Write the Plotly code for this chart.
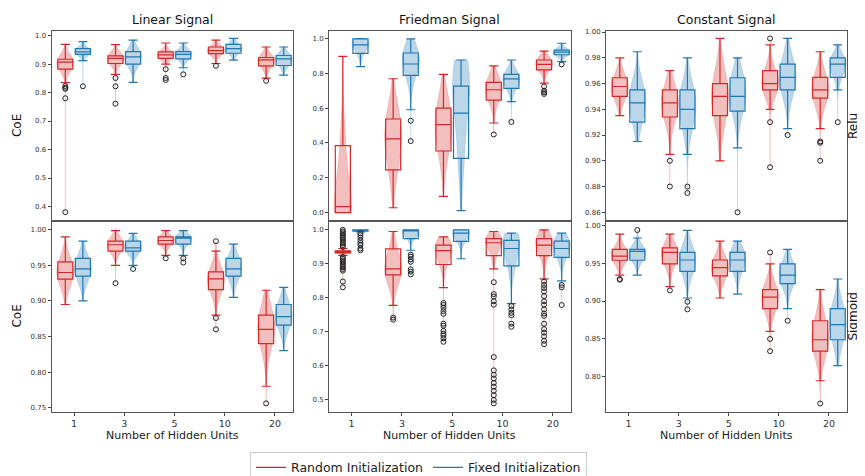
import plotly.graph_objects as go

# ---------------- data ----------------
K_LABELS = ["1", "3", "5", "10", "20"]
K_POS = [0, 1, 2, 3, 4]
SIGNALS = ["Linear Signal", "Friedman Signal", "Constant Signal"]
ACTIVATIONS = ["Relu", "Sigmoid"]
INITS = ["Random Initialization", "Fixed Initialization"]

linear_relu_random = dict(
    lo=[0.835, 0.864, 0.900, 0.902, 0.851],
    q1=[0.882, 0.902, 0.920, 0.937, 0.894],
    med=[0.907, 0.920, 0.932, 0.947, 0.915],
    q3=[0.917, 0.929, 0.943, 0.960, 0.923],
    hi=[0.969, 0.968, 0.974, 0.984, 0.960],
    peak=[0.905, 0.920, 0.932, 0.947, 0.912],
    out=[[0.823, 0.817, 0.813, 0.780, 0.380], [0.851, 0.822, 0.761], [0.882, 0.851, 0.844], [0.894], [0.841]],
)
linear_relu_fixed = dict(
    lo=[0.912, 0.836, 0.887, 0.914, 0.861],
    q1=[0.934, 0.900, 0.918, 0.938, 0.895],
    med=[0.943, 0.925, 0.934, 0.954, 0.918],
    q3=[0.954, 0.944, 0.944, 0.969, 0.930],
    hi=[0.979, 0.984, 0.974, 0.990, 0.960],
    peak=[0.945, 0.925, 0.935, 0.955, 0.918],
    out=[[0.822], [], [0.864], [], []],
)
friedman_relu_random = dict(
    lo=[0.000, 0.028, 0.093, 0.515, 0.744],
    q1=[0.000, 0.246, 0.354, 0.646, 0.820],
    med=[0.034, 0.424, 0.506, 0.706, 0.852],
    q3=[0.385, 0.538, 0.600, 0.748, 0.877],
    hi=[0.898, 0.769, 0.794, 0.843, 0.928],
    peak=[0.020, 0.450, 0.500, 0.720, 0.860],
    out=[[], [], [], [0.449], [0.725, 0.700, 0.691, 0.682]],
)
friedman_relu_fixed = dict(
    lo=[0.839, 0.591, 0.011, 0.638, 0.867],
    q1=[0.915, 0.788, 0.312, 0.714, 0.907],
    med=[0.964, 0.854, 0.572, 0.768, 0.922],
    q3=[0.998, 0.917, 0.727, 0.794, 0.934],
    hi=[1.000, 0.998, 0.877, 0.877, 0.973],
    peak=[0.970, 0.900, 0.800, 0.770, 0.920],
    out=[[], [0.528, 0.411], [], [0.521], [0.852]],
)
constant_relu_random = dict(
    lo=[0.935, 0.905, 0.900, 0.940, 0.925],
    q1=[0.950, 0.934, 0.935, 0.955, 0.9487],
    med=[0.9577, 0.945, 0.950, 0.960, 0.955],
    q3=[0.9645, 0.955, 0.960, 0.970, 0.9648],
    hi=[0.980, 0.970, 0.995, 0.990, 0.9847],
    peak=[0.957, 0.945, 0.950, 0.960, 0.955],
    out=[[], [0.900, 0.880], [], [0.995, 0.930, 0.895], [0.915, 0.914, 0.900]],
)
constant_relu_fixed = dict(
    lo=[0.915, 0.905, 0.910, 0.925, 0.955],
    q1=[0.930, 0.925, 0.9385, 0.955, 0.9648],
    med=[0.945, 0.940, 0.950, 0.9648, 0.975],
    q3=[0.955, 0.955, 0.9645, 0.975, 0.980],
    hi=[0.9847, 0.980, 0.980, 0.995, 0.990],
    peak=[0.948, 0.945, 0.955, 0.965, 0.975],
    out=[[], [0.880, 0.875], [0.860], [0.920], [0.930]],
)
linear_sigmoid_random = dict(
    lo=[0.895, 0.950, 0.964, 0.880, 0.780],
    q1=[0.9306, 0.970, 0.980, 0.916, 0.840],
    med=[0.940, 0.979, 0.985, 0.931, 0.860],
    q3=[0.955, 0.984, 0.990, 0.941, 0.880],
    hi=[0.990, 0.999, 0.999, 0.970, 0.915],
    peak=[0.940, 0.980, 0.985, 0.930, 0.865],
    out=[[], [0.925], [0.960], [0.984, 0.876, 0.860], [0.756]],
)
linear_sigmoid_fixed = dict(
    lo=[0.900, 0.950, 0.964, 0.905, 0.830],
    q1=[0.935, 0.970, 0.980, 0.935, 0.866],
    med=[0.945, 0.9745, 0.9884, 0.945, 0.878],
    q3=[0.960, 0.984, 0.990, 0.960, 0.895],
    hi=[0.984, 0.995, 0.999, 0.980, 0.919],
    peak=[0.945, 0.975, 0.988, 0.948, 0.880],
    out=[[], [0.945], [0.960, 0.954], [], []],
)
friedman_sigmoid_random = dict(
    lo=[0.925, 0.778, 0.830, 0.885, 0.856],
    q1=[0.932, 0.8675, 0.898, 0.924, 0.924],
    med=[0.935, 0.885, 0.939, 0.962, 0.955],
    q3=[0.938, 0.944, 0.955, 0.974, 0.974],
    hi=[0.945, 0.995, 0.979, 0.995, 1.000],
    peak=[0.935, 0.880, 0.950, 0.970, 0.970],
    out=[[0.831, 0.848, 0.880, 0.885, 0.890, 0.895, 0.900, 0.905, 0.910, 0.915, 0.920,
          0.950, 0.955, 0.960, 0.965, 0.970, 0.975, 0.980, 0.985, 0.990, 0.995, 1.000],
         [0.742, 0.736],
         [0.785, 0.779, 0.771, 0.761, 0.753, 0.724, 0.718, 0.703, 0.695, 0.689, 0.681, 0.671],
         [0.846, 0.811, 0.804, 0.790, 0.780, 0.626, 0.587, 0.574, 0.563, 0.550, 0.539,
          0.527, 0.514, 0.500, 0.490],
         [0.848, 0.838, 0.829, 0.819, 0.805, 0.790, 0.780, 0.766, 0.754, 0.747, 0.724,
          0.708, 0.698, 0.687, 0.674, 0.664]],
)
friedman_sigmoid_fixed = dict(
    lo=[0.994, 0.940, 0.915, 0.783, 0.850],
    q1=[0.996, 0.974, 0.966, 0.894, 0.919],
    med=[0.999, 0.998, 0.990, 0.945, 0.945],
    q3=[1.000, 1.000, 1.000, 0.969, 0.967],
    hi=[1.000, 1.000, 1.000, 0.990, 0.990],
    peak=[0.998, 0.990, 0.990, 0.970, 0.960],
    out=[[0.940, 0.945, 0.955, 0.961, 0.969, 0.977, 0.984, 0.990],
         [0.927, 0.921, 0.913, 0.906, 0.884, 0.877, 0.869],
         [],
         [0.776, 0.766, 0.756, 0.749, 0.724, 0.715],
         [0.838, 0.831, 0.779]],
)
constant_sigmoid_random = dict(
    lo=[0.934, 0.919, 0.904, 0.860, 0.795],
    q1=[0.9537, 0.949, 0.933, 0.890, 0.834],
    med=[0.959, 0.964, 0.944, 0.905, 0.849],
    q3=[0.968, 0.970, 0.954, 0.915, 0.874],
    hi=[0.988, 0.988, 0.979, 0.949, 0.915],
    peak=[0.960, 0.962, 0.944, 0.905, 0.852],
    out=[[0.929, 0.928], [0.914], [], [0.964, 0.850, 0.834], [0.765]],
)
constant_sigmoid_fixed = dict(
    lo=[0.934, 0.904, 0.909, 0.890, 0.815],
    q1=[0.9537, 0.939, 0.939, 0.923, 0.849],
    med=[0.9654, 0.954, 0.954, 0.934, 0.869],
    q3=[0.968, 0.964, 0.964, 0.949, 0.890],
    hi=[0.983, 0.993, 0.979, 0.968, 0.929],
    peak=[0.963, 0.955, 0.958, 0.936, 0.872],
    out=[[0.9935], [0.899, 0.889], [], [0.874], []],
)

# y tick values / labels per panel (row-major: relu row then sigmoid row)
Y_TICKS = [
    [0.4, 0.5, 0.6, 0.7, 0.8, 0.9, 1.0],
    [0.0, 0.2, 0.4, 0.6, 0.8, 1.0],
    [0.86, 0.88, 0.90, 0.92, 0.94, 0.96, 0.98, 1.00],
    [0.75, 0.80, 0.85, 0.90, 0.95, 1.00],
    [0.5, 0.6, 0.7, 0.8, 0.9, 1.0],
    [0.80, 0.85, 0.90, 0.95, 1.00],
]
Y_TICKTEXT = [
    ["0.4", "0.5", "0.6", "0.7", "0.8", "0.9", "1.0"],
    ["0.0", "0.2", "0.4", "0.6", "0.8", "1.0"],
    ["0.86", "0.88", "0.90", "0.92", "0.94", "0.96", "0.98", "1.00"],
    ["0.75", "0.80", "0.85", "0.90", "0.95", "1.00"],
    ["0.5", "0.6", "0.7", "0.8", "0.9", "1.0"],
    ["0.80", "0.85", "0.90", "0.95", "1.00"],
]
Y_RANGES = [
    [0.348, 1.017], [-0.05, 1.045], [0.853, 1.001],
    [0.744, 1.012], [0.465, 1.025], [0.754, 1.005],
]

PANELS = [
    (linear_relu_random, linear_relu_fixed),
    (friedman_relu_random, friedman_relu_fixed),
    (constant_relu_random, constant_relu_fixed),
    (linear_sigmoid_random, linear_sigmoid_fixed),
    (friedman_sigmoid_random, friedman_sigmoid_fixed),
    (constant_sigmoid_random, constant_sigmoid_fixed),
]

# ---------------- style ----------------
W, H = 865, 476
FONT = "DejaVu Sans"
COLORS = ["#d62728", "#1f77b4"]
FILLS = ["rgba(214,39,40,0.30)", "rgba(31,119,180,0.30)"]
OFFSETS = [-0.175, 0.175]
COL_PX = [(43.5, 285.0), (321.0, 563.0), (598.0, 839.0)]
ROW_PX = [(21.0, 214.0), (214.0, 407.0)]
X_RANGE = [-0.45, 4.36]

fig = go.Figure()
layout = dict(
    width=W, height=H,
    margin=dict(l=0, r=0, t=0, b=0),
    paper_bgcolor="white", plot_bgcolor="white",
    font=dict(family=FONT, color="#222"),
    violinmode="overlay", boxmode="overlay",
    showlegend=True,
)

for p, (rnd, fix) in enumerate(PANELS):
    r, c = divmod(p, 3)
    sfx = "" if p == 0 else str(p + 1)
    xa, ya = "x" + sfx, "y" + sfx
    x0, x1 = COL_PX[c]
    y0, y1 = ROW_PX[r]
    layout["xaxis" + sfx] = dict(
        domain=[x0 / W, x1 / W], anchor=ya, range=X_RANGE,
        tickvals=K_POS, ticktext=K_LABELS,
        showticklabels=(r == 1), ticks="outside" if r == 1 else "",
        ticklen=3, tickcolor="#444", tickfont=dict(size=9.5, color="#333"),
        showgrid=False, zeroline=False,
        showline=True, mirror=True, linecolor="#555", linewidth=1,
    )
    layout["yaxis" + sfx] = dict(
        domain=[1 - y1 / H, 1 - y0 / H], anchor=xa, range=Y_RANGES[p],
        tickvals=Y_TICKS[p], ticktext=Y_TICKTEXT[p],
        ticks="outside", ticklen=3, tickcolor="#444",
        tickfont=dict(size=7, color="#333"),
        showgrid=False, zeroline=False,
        showline=True, mirror=True, linecolor="#555", linewidth=1,
    )
    for g, d in enumerate((rnd, fix)):
        pos = [k + OFFSETS[g] for k in K_POS]
        # violins
        for i in range(len(K_POS)):
            vals = [d["q1"][i], d["med"][i], d["q3"][i], d["peak"][i], d["peak"][i]]
            allv = [d["lo"][i], d["hi"][i]] + d["out"][i]
            bw = max((d["hi"][i] - d["lo"][i]) / 5.0, 1e-4)
            fig.add_trace(go.Violin(
                x=[pos[i]] * len(vals), y=vals, xaxis=xa, yaxis=ya,
                width=0.34, scalemode="width", spanmode="manual",
                span=[min(allv), max(allv)], bandwidth=bw,
                fillcolor=FILLS[g], line=dict(color=FILLS[g], width=0.5),
                points=False, box_visible=False, meanline_visible=False,
                showlegend=False, hoverinfo="skip", orientation="v",
            ))
        # boxes
        fig.add_trace(go.Box(
            x=pos, q1=d["q1"], median=d["med"], q3=d["q3"],
            lowerfence=d["lo"], upperfence=d["hi"],
            xaxis=xa, yaxis=ya, width=0.3, whiskerwidth=0.6,
            fillcolor="rgba(0,0,0,0)", line=dict(color=COLORS[g], width=1.2),
            boxpoints=False, showlegend=False, hoverinfo="skip",
        ))
        # outliers
        ox, oy = [], []
        for i in range(len(K_POS)):
            ox += [pos[i]] * len(d["out"][i])
            oy += d["out"][i]
        fig.add_trace(go.Scatter(
            x=ox, y=oy, xaxis=xa, yaxis=ya, mode="markers",
            marker=dict(symbol="circle-open", size=5, color="#222", line=dict(width=1)),
            showlegend=False, hoverinfo="skip",
        ))

# legend entries
for g in range(2):
    fig.add_trace(go.Scatter(
        x=[None], y=[None], xaxis="x", yaxis="y", mode="lines",
        line=dict(color=COLORS[g], width=1.2), name=INITS[g], showlegend=True,
    ))

annotations = []
for c, title in enumerate(SIGNALS):
    cx = (COL_PX[c][0] + COL_PX[c][1]) / 2 / W
    annotations.append(dict(text=title, x=cx, y=1 - 10 / H, xref="paper", yref="paper",
                            showarrow=False, xanchor="center", yanchor="middle",
                            font=dict(size=12.5, color="#111")))
    annotations.append(dict(text="Number of Hidden Units", x=cx, y=1 - 431 / H,
                            xref="paper", yref="paper", showarrow=False,
                            xanchor="center", yanchor="middle",
                            font=dict(size=11, color="#222")))
for r, act in enumerate(ACTIVATIONS):
    cy = 1 - (ROW_PX[r][0] + ROW_PX[r][1]) / 2 / H
    annotations.append(dict(text="CoE", x=9 / W, y=cy, xref="paper", yref="paper",
                            showarrow=False, textangle=-90, xanchor="center",
                            yanchor="middle", font=dict(size=12, color="#111")))
    annotations.append(dict(text=act, x=845 / W, y=cy, xref="paper", yref="paper",
                            showarrow=False, textangle=-90, xanchor="center",
                            yanchor="middle", font=dict(size=12, color="#111")))
layout["annotations"] = annotations
layout["legend"] = dict(
    orientation="h", x=410.5 / W, y=1 - 463.5 / H, xanchor="center", yanchor="middle",
    bordercolor="#cccccc", borderwidth=1, bgcolor="white",
    font=dict(size=12.5, color="#222"), itemwidth=30,
)
fig.update_layout(**layout)
fig.write_html("out.html")
